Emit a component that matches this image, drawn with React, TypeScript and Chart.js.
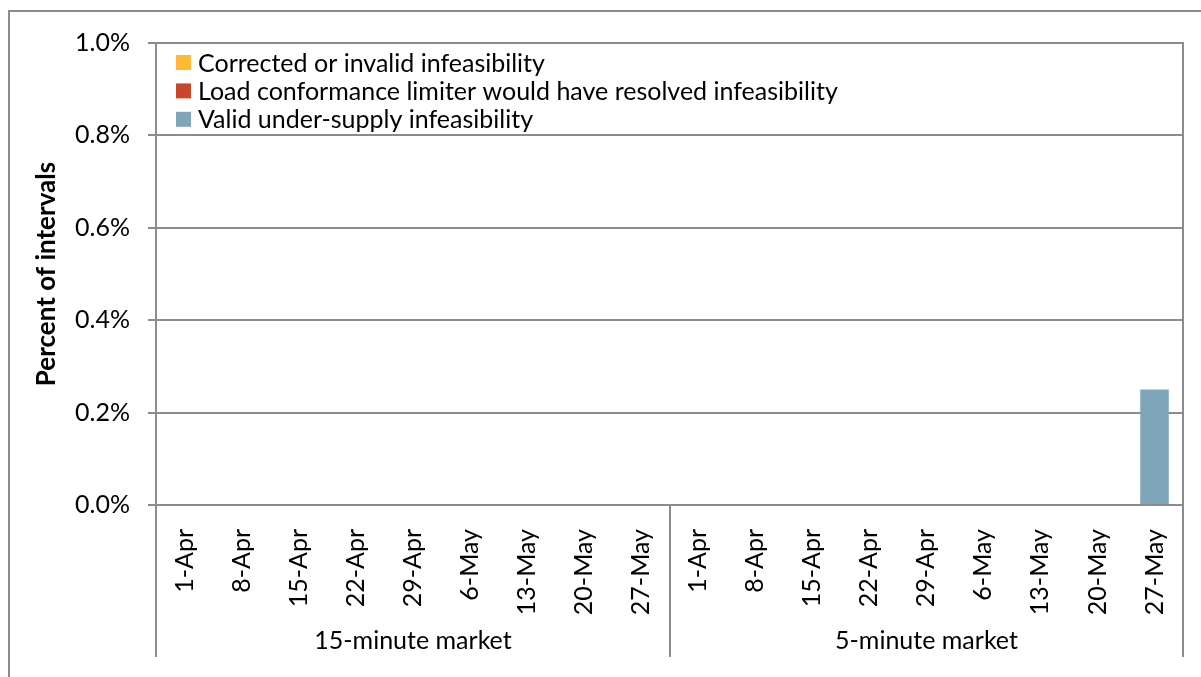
import React, { useEffect, useRef } from 'react';
import { Chart, registerables } from 'chart.js';

Chart.register(...registerables);

const weeks = ['1-Apr', '8-Apr', '15-Apr', '22-Apr', '29-Apr', '6-May', '13-May', '20-May', '27-May'];
const markets = ['15-minute market', '5-minute market'];

const seriesNames = [
  'Corrected or invalid infeasibility',
  'Load conformance limiter would have resolved infeasibility',
  'Valid under-supply infeasibility',
];
const seriesColors = ['#FFB935', '#C9462B', '#7FA5B9'];

// percent of intervals, 15-minute market weeks then 5-minute market weeks
const correctedInvalid = [0, 0, 0, 0, 0, 0, 0, 0, 0, 0, 0, 0, 0, 0, 0, 0, 0, 0];
const loadConformance = [0, 0, 0, 0, 0, 0, 0, 0, 0, 0, 0, 0, 0, 0, 0, 0, 0, 0];
const validUnderSupply = [0, 0, 0, 0, 0, 0, 0, 0, 0, 0, 0, 0, 0, 0, 0, 0, 0, 0.25];

const yTicks = [0, 0.2, 0.4, 0.6, 0.8, 1.0];

const FONT = 'Lato, "Open Sans", sans-serif';
const FS = 25;
const GRID = '#8c8c8c';

const categories: string[] = [];
markets.forEach(() => weeks.forEach((w) => categories.push(w)));

const decor = {
  id: 'decor',
  afterDraw(chart: any) {
    const { ctx, chartArea, scales } = chart;
    const x = scales.x;
    const n = weeks.length;
    const lowest = 657;
    ctx.save();
    ctx.strokeStyle = GRID;
    ctx.lineWidth = 2;
    // outer chart border (left and top)
    ctx.beginPath();
    ctx.moveTo(9, chart.height);
    ctx.lineTo(9, 11);
    ctx.lineTo(chart.width, 11);
    ctx.stroke();

    const bounds: number[] = [];
    for (let g = 0; g <= markets.length; g++) {
      let px: number;
      if (g === 0) px = x.left;
      else if (g === markets.length) px = x.right;
      else px = (x.getPixelForTick(g * n - 1) + x.getPixelForTick(g * n)) / 2;
      bounds.push(Math.round(px));
    }
    bounds.forEach((px, i) => {
      ctx.beginPath();
      const top = i === bounds.length - 1 ? chartArea.top - 1 : chartArea.bottom;
      ctx.moveTo(px, top);
      ctx.lineTo(px, lowest);
      ctx.stroke();
    });

    // group labels
    ctx.fillStyle = '#000';
    ctx.font = `${FS}px ${FONT}`;
    ctx.textAlign = 'center';
    ctx.textBaseline = 'middle';
    markets.forEach((m, i) => {
      ctx.fillText(m, (bounds[i] + bounds[i + 1]) / 2, 641);
    });

    // legend
    ctx.textAlign = 'left';
    seriesNames.forEach((name, i) => {
      const cy = chartArea.top + 19.5 + i * 28.4;
      ctx.fillStyle = seriesColors[i];
      ctx.fillRect(chartArea.left + 20, cy - 7.5, 15, 15);
      ctx.fillStyle = '#000';
      ctx.fillText(name, chartArea.left + 42, cy + 1);
    });
    ctx.restore();
  },
};

export default function App() {
  const ref = useRef<HTMLCanvasElement>(null);
  useEffect(() => {
    if (!ref.current) return;
    const chart = new Chart(ref.current, {
      type: 'bar',
      data: {
        labels: categories,
        datasets: [
          { label: seriesNames[0], data: correctedInvalid, backgroundColor: seriesColors[0] },
          { label: seriesNames[1], data: loadConformance, backgroundColor: seriesColors[1] },
          { label: seriesNames[2], data: validUnderSupply, backgroundColor: seriesColors[2] },
        ],
      },
      options: {
        responsive: false,
        animation: false,
        devicePixelRatio: 1,
        layout: { padding: { top: 43, right: 17, left: 0, bottom: 0 } },
        datasets: { bar: { categoryPercentage: 0.5, barPercentage: 1, borderWidth: 0 } },
        plugins: { legend: { display: false }, tooltip: { enabled: false } },
        scales: {
          x: {
            stacked: true,
            grid: { display: false },
            border: { display: true, color: GRID, width: 2 },
            ticks: {
              autoSkip: false,
              minRotation: 90,
              maxRotation: 90,
              padding: 16,
              color: '#000',
              font: { family: FONT, size: FS },
            },
            afterFit: (s: any) => {
              s.height = 172;
            },
          },
          y: {
            stacked: true,
            min: 0,
            max: 1,
            grid: { color: GRID, lineWidth: 2, tickLength: 8, tickColor: GRID },
            border: { display: true, color: GRID, width: 2 },
            afterBuildTicks: (s: any) => {
              s.ticks = yTicks.map((v) => ({ value: v }));
            },
            ticks: {
              padding: 18,
              color: '#000',
              font: { family: FONT, size: FS },
              callback: (v: any) => Number(v).toFixed(1) + '%',
            },
            title: {
              display: true,
              text: 'Percent of intervals',
              color: '#000',
              font: { family: FONT, size: 26, weight: 'bold' },
              padding: { top: 31, bottom: 0 },
            },
            afterFit: (s: any) => {
              s.width = 156;
            },
          },
        },
      },
      plugins: [decor],
    });
    return () => chart.destroy();
  }, []);
  return (
    <div style={{ position: 'fixed', left: 0, top: 0, width: 1201, height: 677, background: '#fff' }}>
      <canvas ref={ref} width={1201} height={677} style={{ width: 1201, height: 677, display: 'block' }} />
    </div>
  );
}
